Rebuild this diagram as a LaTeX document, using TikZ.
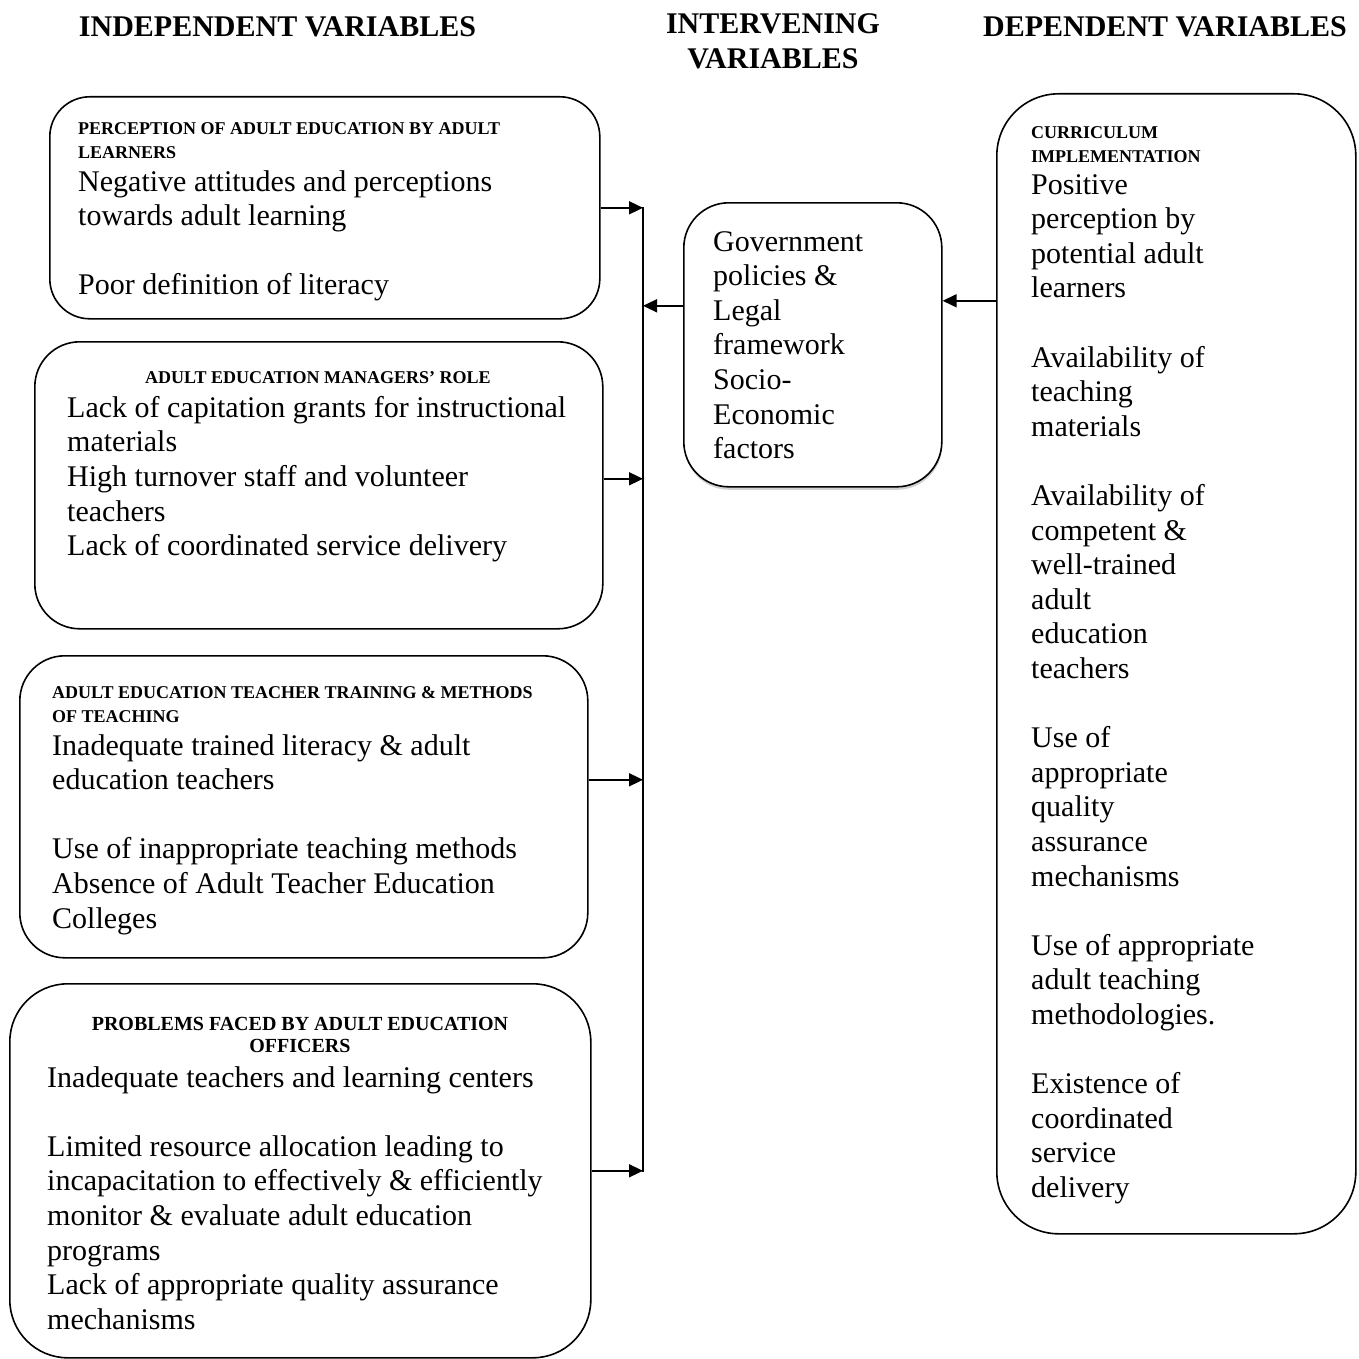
\documentclass[tikz,border=0pt]{standalone}
\usepackage{fontspec}
\setmainfont{Liberation Serif}
\usetikzlibrary{arrows.meta,shadows}
\begin{document}
\begin{tikzpicture}[x=1pt,y=-1pt]
	\tikzstyle{box}=[draw=black,line width=1.6pt,inner sep=0pt,anchor=north west]
	\tikzstyle{txt}=[inner sep=0pt,anchor=north west,align=left,font=\fontsize{30}{34.6}\selectfont]
	\tikzstyle{hdr}=[inner sep=0pt,anchor=north west,align=left,font=\bfseries\fontsize{18}{24}\selectfont]
	\tikzstyle{title}=[inner sep=0pt,align=center,font=\bfseries\fontsize{30}{35}\selectfont]
	\tikzstyle{arr}=[line width=1.6pt,-{Triangle[length=14pt,width=13pt]}]
	\useasboundingbox (0,0) rectangle (1359,1359);
	% column titles
	\node[title] (T-ind) at (277.5,27) {INDEPENDENT VARIABLES};
	\node[title] (T-int) at (773,41.5) {INTERVENING\\VARIABLES};
	\node[title] (T-dep) at (1165,27) {DEPENDENT VARIABLES};
	% independent variables
	\node[box,rounded corners=40pt,minimum width=550pt,minimum height=222pt] (B-perc) at (49,96) {};
	\node[hdr] (B-perc-h) at (78,122) {PERCEPTION OF ADULT EDUCATION BY ADULT\\LEARNERS};
	\node[txt] (B-perc-t) at (78,170) {Negative attitudes and perceptions\\towards adult learning\\[34.6pt]Poor definition of literacy};
	\node[box,rounded corners=45pt,minimum width=568pt,minimum height=287pt] (B-man) at (34,341) {};
	\node[hdr,anchor=center] (B-man-h) at (318,378) {ADULT EDUCATION MANAGERS' ROLE};
	\node[txt] (B-man-t) at (67,396) {Lack of capitation grants for instructional\\materials\\High turnover staff and volunteer\\teachers\\Lack of coordinated service delivery};
	\node[box,rounded corners=45pt,minimum width=568pt,minimum height=302pt] (B-tea) at (19,655) {};
	\node[hdr] (B-tea-h) at (52,686) {ADULT EDUCATION TEACHER TRAINING \& METHODS\\OF TEACHING};
	\node[txt] (B-tea-t) at (52,734) {Inadequate trained literacy \& adult\\education teachers\\[34.6pt]Use of inappropriate teaching methods\\Absence of Adult Teacher Education\\Colleges};
	\node[box,rounded corners=58pt,minimum width=581pt,minimum height=374pt] (B-off) at (9,983) {};
	\node[hdr,anchor=north,align=center,font=\bfseries\fontsize{20}{22}\selectfont] (B-off-h) at (300,1017) {PROBLEMS FACED BY ADULT EDUCATION\\OFFICERS};
	\node[txt] (B-off-t) at (47,1066) {Inadequate teachers and learning centers\\[34.6pt]Limited resource allocation leading to\\incapacitation to effectively \& efficiently\\monitor \& evaluate adult education\\programs\\Lack of appropriate quality assurance\\mechanisms};
	% intervening variables
	\node[box,rounded corners=45pt,minimum width=258pt,minimum height=284pt,fill=white,drop shadow={shadow xshift=0.5pt,shadow yshift=-3pt,fill=gray!70}] (B-iv) at (683,202) {};
	\node[txt] (B-iv-t) at (713,231) {Government\\policies \&\\Legal\\framework\\Socio-\\Economic\\factors};
	% dependent variables
	\node[box,rounded corners=62pt,minimum width=359pt,minimum height=1140pt] (B-dv) at (996,93) {};
	\node[hdr] (B-dv-h) at (1031,126) {CURRICULUM\\IMPLEMENTATION};
	\node[txt] (B-dv-t) at (1031,174) {Positive\\perception by\\potential adult\\learners\\[34.6pt]Availability of\\teaching\\materials\\[34.6pt]Availability of\\competent \&\\well-trained\\adult\\education\\teachers\\[34.6pt]Use of\\appropriate\\quality\\assurance\\mechanisms\\[34.6pt]Use of appropriate\\adult teaching\\methodologies.\\[34.6pt]Existence of\\coordinated\\service\\delivery};
	% connectors
	\coordinate (bus-top) at (643,207);
	\coordinate (bus-bot) at (643,1172);
	\draw[line width=1.6pt] (bus-top) -- (bus-bot);
	\draw[arr] (B-perc.east) -- (B-perc.east -| bus-top);
	\draw[arr] ([yshift=6.5pt]B-man.east) -- ([yshift=6.5pt]B-man.east -| bus-top);
	\draw[arr] ([yshift=27pt]B-tea.east) -- ([yshift=27pt]B-tea.east -| bus-top);
	\draw[arr] (B-off.east) -- (B-off.east -| bus-top);
	\coordinate (iv-l) at ([yshift=39pt]B-iv.west);
	\coordinate (iv-r) at ([yshift=44pt]B-iv.east);
	\draw[arr] (iv-l) -- (iv-l -| bus-top);
	\draw[arr] (B-dv.west |- iv-r) -- (iv-r);
\end{tikzpicture}
\end{document}
